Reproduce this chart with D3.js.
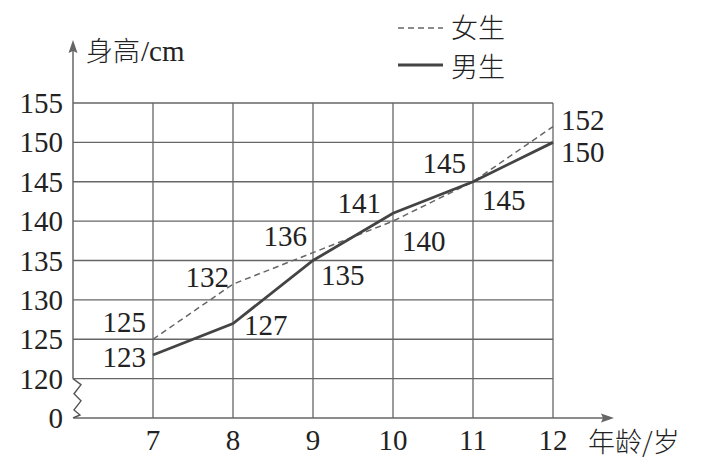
<!DOCTYPE html>
<html>
<head>
<meta charset="utf-8">
<script src="https://cdn.jsdelivr.net/npm/d3@7"></script>
<style>
  html, body { margin: 0; padding: 0; background: #fff; }
  svg { display: block; }
  .num { font-family: "Liberation Serif", "DejaVu Serif", serif; font-size: 29px; fill: #222; }
  .cjk { font-family: "Noto Sans CJK SC", sans-serif; font-weight: 300; font-size: 27px; fill: #222; }
</style>
</head>
<body>
<script>
// ---- data ----
const ages = [7, 8, 9, 10, 11, 12];
const girls = [125, 132, 136, 140, 145, 152];
const boys = [123, 127, 135, 141, 145, 150];
const yTickValues = [115, 120, 125, 130, 135, 140, 145, 150, 155];
const yTickLabels = ["0", "120", "125", "130", "135", "140", "145", "150", "155"];
const seriesNames = ["女生", "男生"];
const yTitle = "身高";
const yUnit = "/cm";
const xTitle = "年龄/岁";

// label placement (pixel offsets from each point)
const girlLabelPos = [
  { a: "end", dx: -7, dy: -7 }, { a: "end", dx: -4, dy: 3 }, { a: "end", dx: -6, dy: -7 },
  { a: "start", dx: 9, dy: 30 }, { a: "end", dx: -7, dy: -9 }, { a: "start", dx: 8, dy: 3 }
];
const boyLabelPos = [
  { a: "end", dx: -7, dy: 12 }, { a: "start", dx: 11, dy: 11 }, { a: "start", dx: 8, dy: 24 },
  { a: "end", dx: -12, dy: 0 }, { a: "start", dx: 9, dy: 28 }, { a: "start", dx: 8, dy: 20 }
];

const W = 709, H = 461;
const svg = d3.select("body").append("svg").attr("width", W).attr("height", H);

const x = d3.scaleLinear().domain([6, 12]).range([73, 553]);
const y = d3.scaleLinear().domain([115, 155]).range([418, 103]);

const gridColor = "#666";
const g = svg.append("g");

// horizontal grid lines
g.selectAll("line.h").data(yTickValues.slice(1)).join("line")
  .attr("x1", x(6)).attr("x2", x(12))
  .attr("y1", d => y(d)).attr("y2", d => y(d))
  .attr("stroke", gridColor).attr("stroke-width", 1.3);

// vertical grid lines
g.selectAll("line.v").data(ages).join("line")
  .attr("x1", d => x(d)).attr("x2", d => x(d))
  .attr("y1", y(115)).attr("y2", y(155))
  .attr("stroke", gridColor).attr("stroke-width", 1.3);

// axes with arrows
const axisColor = "#666";
g.append("line").attr("x1", x(6) + 1).attr("x2", 606).attr("y1", y(115)).attr("y2", y(115))
  .attr("stroke", axisColor).attr("stroke-width", 1.5);
g.append("path").attr("d", `M614,${y(115)} L601,${y(115) - 4.5} L603,${y(115)} L601,${y(115) + 4.5} Z`)
  .attr("fill", axisColor);
g.append("line").attr("x1", x(6)).attr("x2", x(6)).attr("y1", y(120)).attr("y2", 48)
  .attr("stroke", axisColor).attr("stroke-width", 1.5);
g.append("path").attr("d", `M${x(6)},40 L${x(6) - 4.5},53 L${x(6)},51 L${x(6) + 4.5},53 Z`)
  .attr("fill", axisColor);

// break zigzag (replaces axis segment between 0 and 120)
const zz = [[0, 0], [8, 6], [1, 15], [8, 22], [1, 31], [7, 36], [0, 39]];
g.append("path")
  .attr("d", d3.line()(zz.map(p => [x(6) + p[0], y(120) + p[1] * (y(115) - y(120)) / 39])))
  .attr("fill", "none").attr("stroke", "#555").attr("stroke-width", 1.4);

// y tick labels
g.selectAll("text.yt").data(yTickValues).join("text")
  .attr("class", "num").attr("text-anchor", "end")
  .attr("x", 63).attr("y", d => y(d) + 10)
  .text((d, i) => yTickLabels[i]);

// x tick labels
g.selectAll("text.xt").data(ages).join("text")
  .attr("class", "num").attr("text-anchor", "middle")
  .attr("x", d => x(d)).attr("y", 450)
  .text(d => d);

// axis titles
const yt = g.append("text").attr("x", 86).attr("y", 61);
yt.append("tspan").attr("class", "cjk").text(yTitle);
yt.append("tspan").attr("class", "num").attr("dx", 1).text(yUnit);
g.append("text").attr("class", "cjk").attr("x", 588).attr("y", 452).text(xTitle);

// lines
const line = d3.line().x((d, i) => x(ages[i])).y(d => y(d));
g.append("path").datum(girls).attr("d", line)
  .attr("fill", "none").attr("stroke", "#666").attr("stroke-width", 1.5)
  .attr("stroke-dasharray", "6,4");
g.append("path").datum(boys).attr("d", line)
  .attr("fill", "none").attr("stroke", "#444").attr("stroke-width", 2.8);

// data labels
function labels(vals, pos) {
  g.selectAll(null).data(vals).join("text")
    .attr("class", "num")
    .attr("text-anchor", (d, i) => pos[i].a)
    .attr("x", (d, i) => x(ages[i]) + pos[i].dx)
    .attr("y", (d, i) => y(d) + pos[i].dy)
    .text(d => d);
}
labels(girls, girlLabelPos);
labels(boys, boyLabelPos);

// legend
const lg = svg.append("g");
lg.append("line").attr("x1", 398).attr("x2", 443).attr("y1", 28).attr("y2", 28)
  .attr("stroke", "#666").attr("stroke-width", 1.5).attr("stroke-dasharray", "6,4");
lg.append("text").attr("class", "cjk").attr("x", 451).attr("y", 38).text(seriesNames[0]);
lg.append("line").attr("x1", 398).attr("x2", 443).attr("y1", 65).attr("y2", 65)
  .attr("stroke", "#444").attr("stroke-width", 2.8);
lg.append("text").attr("class", "cjk").attr("x", 451).attr("y", 77).text(seriesNames[1]);
</script>
</body>
</html>
